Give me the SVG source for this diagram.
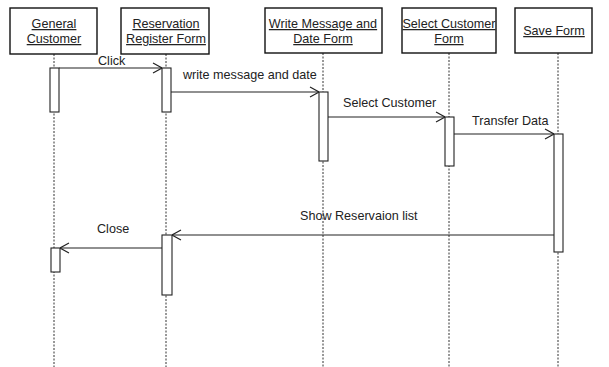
<svg xmlns="http://www.w3.org/2000/svg" width="609" height="367" viewBox="0 0 609 367">
  <style>
    .box { fill: #fff; stroke: #111; stroke-width: 1.4; }
    .life { stroke: #333; stroke-width: 1; stroke-dasharray: 2 1.5; fill: none; }
    .act { fill: #fff; stroke: #222; stroke-width: 1.1; }
    .msg { stroke: #222; stroke-width: 1.1; fill: none; }
    .head { stroke: #222; stroke-width: 1.1; fill: none; }
    .name { font-family: "Liberation Sans", Arial, sans-serif; font-size: 12.6px; fill: #222; text-anchor: middle; text-decoration: underline; }
    .lbl { font-family: "Liberation Sans", Arial, sans-serif; font-size: 12.6px; fill: #222; }
  </style>
  <defs>
    <marker id="open" viewBox="0 0 10 12" refX="10" refY="6" markerWidth="10" markerHeight="12" markerUnits="userSpaceOnUse" orient="auto">
      <path class="head" d="M1,1 L10,6 L1,11"/>
    </marker>
  </defs>
  <rect width="609" height="367" fill="#fff"/>

  <!-- lifelines -->
  <g id="lifelines">
    <line class="life" x1="54" y1="54" x2="54" y2="367"/>
    <line class="life" x1="166" y1="54" x2="166" y2="367"/>
    <line class="life" x1="323" y1="53" x2="323" y2="367"/>
    <line class="life" x1="449" y1="53" x2="449" y2="367"/>
    <line class="life" x1="558" y1="53" x2="558" y2="367"/>
  </g>

  <g id="general-customer">
    <rect class="box" x="10" y="8" width="87" height="46"/>
    <text class="name" x="54" y="28">General</text>
    <text class="name" x="54" y="43">Customer</text>
    <rect class="act" x="50" y="68" width="9" height="44"/>
    <rect class="act" x="51" y="248" width="9" height="24"/>
  </g>

  <g id="reservation-register-form">
    <rect class="box" x="121" y="8" width="88" height="46"/>
    <text class="name" x="166" y="28">Reservation</text>
    <text class="name" x="166" y="43">Register Form</text>
    <rect class="act" x="162" y="68" width="9" height="44"/>
    <rect class="act" x="162" y="235" width="10" height="60"/>
  </g>

  <g id="write-message-form">
    <rect class="box" x="265" y="8" width="117" height="45"/>
    <text class="name" x="323" y="28">Write Message and</text>
    <text class="name" x="323" y="43">Date Form</text>
    <rect class="act" x="319" y="92" width="9" height="69"/>
  </g>

  <g id="select-customer-form">
    <rect class="box" x="402" y="8" width="94" height="45"/>
    <text class="name" x="449" y="28">Select Customer</text>
    <text class="name" x="449" y="43">Form</text>
    <rect class="act" x="445" y="117" width="9" height="49"/>
  </g>

  <g id="save-form">
    <rect class="box" x="515" y="8" width="77" height="45"/>
    <text class="name" x="554" y="35">Save Form</text>
    <rect class="act" x="554" y="134" width="9" height="118"/>
  </g>

  <!-- messages -->
  <g id="connectors">
    <line class="msg" x1="59" y1="68" x2="162" y2="68" marker-end="url(#open)"/>
    <text class="lbl" x="98" y="65">Click</text>

    <line class="msg" x1="171" y1="92" x2="319" y2="92" marker-end="url(#open)"/>
    <text class="lbl" x="183" y="79">write message and date</text>

    <line class="msg" x1="328" y1="117" x2="445" y2="117" marker-end="url(#open)"/>
    <text class="lbl" x="343" y="107">Select Customer</text>

    <line class="msg" x1="454" y1="134" x2="554" y2="134" marker-end="url(#open)"/>
    <text class="lbl" x="472" y="125">Transfer Data</text>

    <line class="msg" x1="554" y1="235" x2="172" y2="235" marker-end="url(#open)"/>
    <text class="lbl" x="300" y="220">Show Reservaion list</text>

    <line class="msg" x1="162" y1="248" x2="60" y2="248" marker-end="url(#open)"/>
    <text class="lbl" x="97" y="233">Close</text>
  </g>
</svg>
